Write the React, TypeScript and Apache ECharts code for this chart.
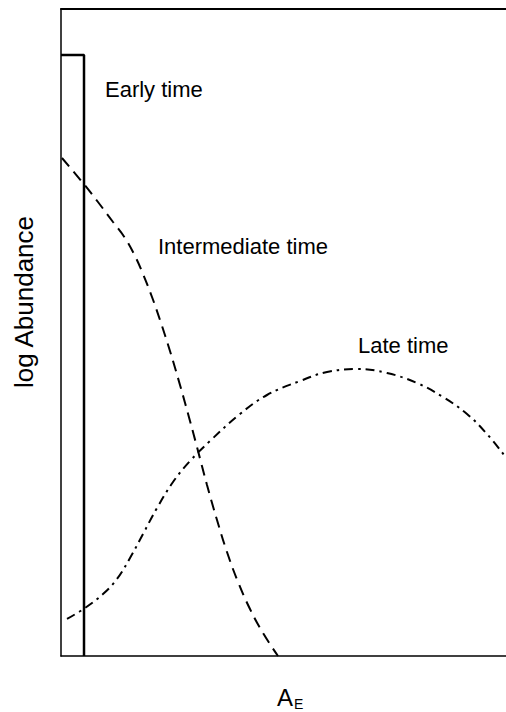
import React, { useEffect, useRef } from "react";
import * as echarts from "echarts";

// Early time: narrow pulse at small A_E
const earlyTime: number[][] = [
  [0, 92.9],
  [5.17, 92.9],
  [5.17, 0],
];

// Intermediate time: dashed decreasing curve
const intermediateTime: number[][] = [
  [0.22, 76.97], [4.94, 73.11], [8.31, 70.17], [11.69, 67.08], [14.38, 64.61],
  [16.63, 61.82], [18.43, 59.04], [20.45, 55.49], [22.25, 51.93], [24.49, 47.14],
  [26.74, 41.89], [28.99, 36.32], [30.56, 32.3], [32.81, 26.43], [35.06, 21.02],
  [37.3, 16.07], [39.78, 11.44], [42.47, 7.26], [45.39, 3.55], [48.76, 0],
];

// Late time: dash-dot hump
const lateTime: number[][] = [
  [1.35, 5.72], [5.39, 7.42], [9.44, 9.58], [12.58, 11.9], [15.51, 15.15],
  [18.43, 18.86], [21.57, 22.87], [25.17, 26.89], [28.99, 30.14], [33.48, 33.23],
  [40.22, 37.4], [46.29, 40.34], [53.71, 42.5], [59.78, 43.89], [66.52, 44.36],
  [73.26, 43.74], [80.0, 42.19], [85.84, 40.03], [91.24, 37.4], [95.73, 34.31],
  [99.55, 31.07],
];

const labels = ["Early time", "Intermediate time", "Late time"];

export default function App() {
  const ref = useRef<HTMLDivElement>(null);
  useEffect(() => {
    if (!ref.current) return;
    const chart = echarts.init(ref.current, null, { renderer: "svg" });
    const font = "Liberation Sans, Arial, sans-serif";
    const axisBase = {
      type: "value" as const,
      min: 0,
      max: 100,
      axisTick: { show: false },
      axisLabel: { show: false },
      splitLine: { show: false },
    };
    chart.setOption({
      animation: false,
      backgroundColor: "#ffffff",
      grid: { left: 61, right: 0, top: 9, bottom: 56 },
      xAxis: [
        { ...axisBase, position: "bottom", axisLine: { show: true, onZero: false, lineStyle: { color: "#000", width: 1.5 } } },
        { ...axisBase, position: "top", axisLine: { show: true, onZero: false, lineStyle: { color: "#000", width: 2 } } },
      ],
      yAxis: [
        { ...axisBase, position: "left", axisLine: { show: true, onZero: false, lineStyle: { color: "#000", width: 1.5 } } },
      ],
      series: [
        {
          type: "line",
          data: earlyTime,
          symbol: "none",
          lineStyle: { color: "#000", width: 2.5, type: "solid" },
        },
        {
          type: "line",
          data: intermediateTime,
          symbol: "none",
          smooth: 0.4,
          lineStyle: { color: "#000", width: 2, type: [11, 7] },
        },
        {
          type: "line",
          data: lateTime,
          symbol: "none",
          smooth: 0.4,
          lineStyle: { color: "#000", width: 2, type: [9, 5, 2.5, 5] },
        },
      ],
      graphic: [
        { type: "text", x: 105, y: 89.5, style: { text: labels[0], fill: "#000", font: `22px ${font}`, align: "left", verticalAlign: "middle" } },
        { type: "text", x: 158, y: 246, style: { text: labels[1], fill: "#000", font: `22px ${font}`, align: "left", verticalAlign: "middle" } },
        { type: "text", x: 358, y: 345.5, style: { text: labels[2], fill: "#000", font: `22px ${font}`, align: "left", verticalAlign: "middle" } },
        { type: "text", x: 24, y: 302, rotation: Math.PI / 2, style: { text: "log Abundance", fill: "#000", font: `26px ${font}`, align: "center", verticalAlign: "middle" } },
        { type: "text", x: 277, y: 697.5, style: { text: "A", fill: "#000", font: `24px ${font}`, align: "left", verticalAlign: "middle" } },
        { type: "text", x: 294, y: 704, style: { text: "E", fill: "#000", font: `14px ${font}`, align: "left", verticalAlign: "middle" } },
      ],
    });
    return () => chart.dispose();
  }, []);
  return (
    <div
      ref={ref}
      style={{ position: "fixed", left: 0, top: 0, width: 506, height: 712, background: "#fff" }}
    />
  );
}
